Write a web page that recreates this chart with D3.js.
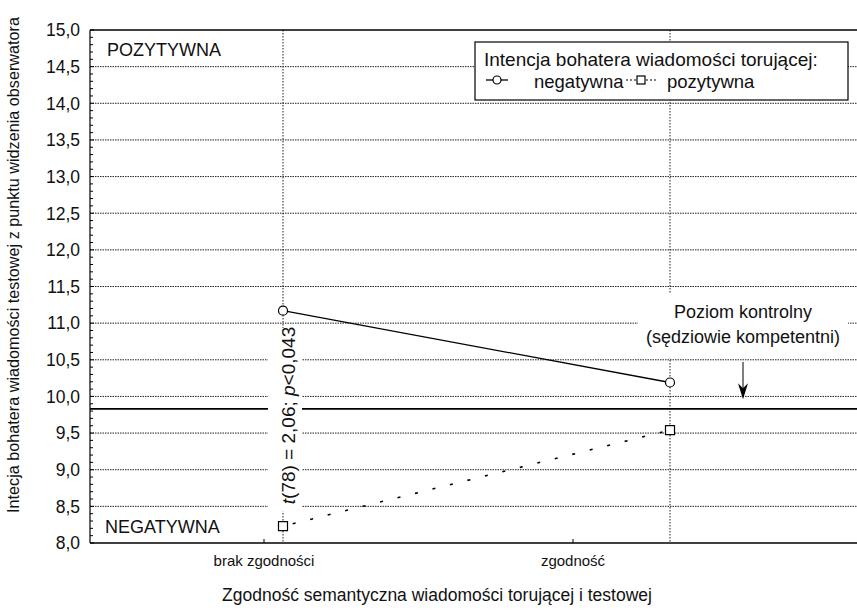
<!DOCTYPE html>
<html>
<head>
<meta charset="utf-8">
<script src="https://cdn.jsdelivr.net/npm/d3@7"></script>
<style>
  html, body { margin: 0; padding: 0; background: #fff; }
  svg { display: block; font-family: "Liberation Sans", Arial, sans-serif; }
</style>
</head>
<body>
<svg id="chart" width="857" height="612"></svg>
<script>
// ---- data ----
const categories = ["brak zgodności", "zgodność"];
const seriesNames = ["negatywna", "pozytywna"];
const negatywna = [11.17, 10.19];
const pozytywna = [8.23, 9.54];
const controlLevel = 9.83;
const yTicks = [8.0, 8.5, 9.0, 9.5, 10.0, 10.5, 11.0, 11.5, 12.0, 12.5, 13.0, 13.5, 14.0, 14.5, 15.0];
const yTitle = "Intecja bohatera wiadomości testowej z punktu widzenia obserwatora";
const xTitle = "Zgodność semantyczna wiadomości torującej i testowej";
const legendTitle = "Intencja bohatera wiadomości torującej:";
const controlText = ["Poziom kontrolny", "(sędziowie kompetentni)"];

// ---- layout ----
const W = 857, H = 612;
const L = 90, R = 857, T = 30, B = 543;
const svg = d3.select("#chart");

const y = d3.scaleLinear().domain([8, 15]).range([B, T]);
const x = d3.scalePoint().domain(categories).range([283, 670]);
const xLab = d3.scalePoint().domain(categories).range([264, 573]);
const fmt = v => d3.format(".1f")(v).replace(".", ",");

const grid = svg.append("g");
// horizontal dotted gridlines
grid.selectAll("line.h").data(yTicks.filter(v => v > 8 && v < 15)).join("line")
  .attr("x1", L).attr("x2", R).attr("y1", d => y(d)).attr("y2", d => y(d))
  .attr("stroke", "#222").attr("stroke-width", 1).attr("stroke-dasharray", "1.5,1");
// vertical dotted gridlines
grid.selectAll("line.v").data(categories).join("line")
  .attr("x1", d => x(d)).attr("x2", d => x(d)).attr("y1", T).attr("y2", B)
  .attr("stroke", "#222").attr("stroke-width", 1).attr("stroke-dasharray", "1.5,1.5");

// control level line
svg.append("line").attr("x1", L).attr("x2", R)
  .attr("y1", y(controlLevel)).attr("y2", y(controlLevel))
  .attr("stroke", "#000").attr("stroke-width", 1.6);

// frame: top and bottom lines, left axis
svg.append("line").attr("x1", L).attr("x2", R).attr("y1", T).attr("y2", T).attr("stroke", "#000").attr("stroke-width", 1.5);
svg.append("line").attr("x1", L).attr("x2", R).attr("y1", B).attr("y2", B).attr("stroke", "#000").attr("stroke-width", 1.5);
svg.append("line").attr("x1", L).attr("x2", L).attr("y1", T).attr("y2", B).attr("stroke", "#000").attr("stroke-width", 1.2);

// minor ticks on left axis (inward)
const minor = d3.range(80, 151).map(v => v / 10);
svg.append("g").selectAll("line").data(minor).join("line")
  .attr("x1", L).attr("x2", d => L + (Math.round(d * 10) % 5 === 0 ? 4 : 3))
  .attr("y1", d => y(d)).attr("y2", d => y(d))
  .attr("stroke", "#000").attr("stroke-width", 1);

// y tick labels
svg.append("g").selectAll("text").data(yTicks).join("text")
  .attr("x", 80).attr("y", d => y(d)).attr("dy", "0.36em")
  .attr("text-anchor", "end").attr("font-size", 17.5).attr("fill", "#111")
  .text(d => fmt(d));

// x ticks and labels
svg.append("g").selectAll("line").data(categories).join("line")
  .attr("x1", d => xLab(d)).attr("x2", d => xLab(d)).attr("y1", B).attr("y2", B - 4)
  .attr("stroke", "#000");
svg.append("g").selectAll("text").data(categories).join("text")
  .attr("x", d => xLab(d)).attr("y", 566).attr("text-anchor", "middle")
  .attr("font-size", 15).attr("fill", "#111").text(d => d);

// axis titles
svg.append("text").attr("x", 437).attr("y", 601).attr("text-anchor", "middle")
  .attr("font-size", 17.5).attr("fill", "#111").text(xTitle);
svg.append("text").attr("transform", `translate(19,265) rotate(-90)`)
  .attr("text-anchor", "middle").attr("font-size", 16.2).attr("fill", "#111").text(yTitle);

// POZYTYWNA / NEGATYWNA labels
svg.append("text").attr("x", 107).attr("y", 56).attr("font-size", 18).attr("fill", "#111").text("POZYTYWNA");
svg.append("text").attr("x", 105).attr("y", 533).attr("font-size", 18).attr("fill", "#111").text("NEGATYWNA");

// white box + t-test annotation
const tx = x(categories[0]);
svg.append("rect").attr("x", tx - 15).attr("y", y(10.93)).attr("width", 34).attr("height", y(8.43) - y(10.93)).attr("fill", "#fff");
const tt = svg.append("text")
  .attr("transform", `translate(${tx + 12},${y(9.74)}) rotate(-90)`)
  .attr("text-anchor", "middle").attr("font-size", 19).attr("fill", "#111");
tt.append("tspan").attr("font-style", "italic").text("t");
tt.append("tspan").text("(78) = 2,06; ");
tt.append("tspan").attr("font-style", "italic").text("p");
tt.append("tspan").text("<0,043");

// white box + control text
const cx = 743;
svg.append("rect").attr("x", 638).attr("y", y(11.4)).attr("width", 210).attr("height", y(10.52) - y(11.4)).attr("fill", "#fff");
svg.append("g").selectAll("text").data(controlText).join("text")
  .attr("x", cx).attr("y", (d, i) => 318 + i * 25).attr("text-anchor", "middle")
  .attr("font-size", 18).attr("fill", "#111").text(d => d);
// arrow
const aTop = y(10.47), aTip = y(9.96);
svg.append("line").attr("x1", cx).attr("x2", cx).attr("y1", aTop).attr("y2", aTip - 8).attr("stroke", "#000").attr("stroke-width", 1);
svg.append("path")
  .attr("d", `M${cx - 5},${aTip - 16} L${cx},${aTip} L${cx + 5},${aTip - 16} L${cx},${aTip - 11} Z`)
  .attr("fill", "#000");

// series lines
const line = d3.line().x((d, i) => x(categories[i])).y(d => y(d));
svg.append("path").datum(negatywna).attr("d", line).attr("fill", "none")
  .attr("stroke", "#000").attr("stroke-width", 1.3);
svg.append("path").datum(pozytywna).attr("d", line).attr("fill", "none")
  .attr("stroke", "#000").attr("stroke-width", 1.6).attr("stroke-dasharray", "3,15").attr("stroke-dashoffset", -10);

// markers
svg.append("g").selectAll("circle").data(negatywna).join("circle")
  .attr("cx", (d, i) => x(categories[i])).attr("cy", d => y(d)).attr("r", 4.5)
  .attr("fill", "#fff").attr("stroke", "#000").attr("stroke-width", 1.2);
svg.append("g").selectAll("rect").data(pozytywna).join("rect")
  .attr("x", (d, i) => x(categories[i]) - 4.5).attr("y", d => y(d) - 4.5)
  .attr("width", 9).attr("height", 9)
  .attr("fill", "#fff").attr("stroke", "#000").attr("stroke-width", 1.2);

// legend
const lg = svg.append("g");
lg.append("rect").attr("x", 475).attr("y", 42).attr("width", 373).attr("height", 58)
  .attr("fill", "#fff").attr("stroke", "#000").attr("stroke-width", 1.2);
lg.append("text").attr("x", 484).attr("y", 66).attr("font-size", 19).attr("fill", "#111").text(legendTitle);
const ly = 80;
lg.append("line").attr("x1", 486).attr("x2", 508).attr("y1", ly).attr("y2", ly).attr("stroke", "#000").attr("stroke-width", 1.3);
lg.append("circle").attr("cx", 497).attr("cy", ly).attr("r", 4).attr("fill", "#fff").attr("stroke", "#000").attr("stroke-width", 1.2);
lg.append("text").attr("x", 534).attr("y", 88).attr("font-size", 18.5).attr("fill", "#111").text(seriesNames[0]);
lg.append("line").attr("x1", 626).attr("x2", 657).attr("y1", ly).attr("y2", ly).attr("stroke", "#000").attr("stroke-width", 1.2).attr("stroke-dasharray", "2,2");
lg.append("rect").attr("x", 637).attr("y", ly - 4).attr("width", 8).attr("height", 8).attr("fill", "#fff").attr("stroke", "#000").attr("stroke-width", 1.2);
lg.append("text").attr("x", 667).attr("y", 88).attr("font-size", 18.5).attr("fill", "#111").text(seriesNames[1]);
</script>
</body>
</html>
